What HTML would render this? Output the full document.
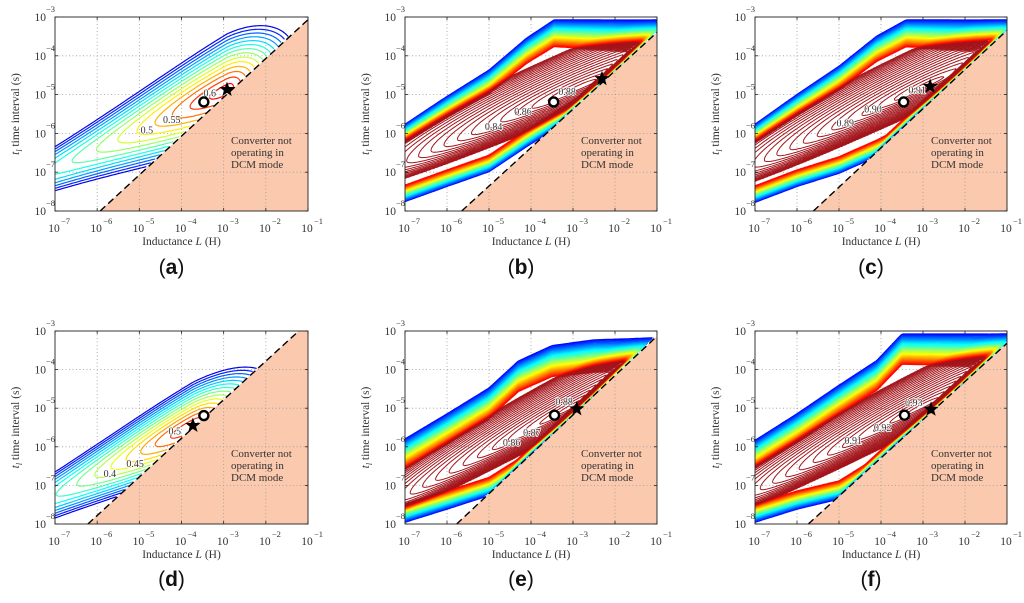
<!DOCTYPE html>
<html><head><meta charset="utf-8"><style>
html,body{margin:0;padding:0;background:#fff;}
svg{display:block;font-family:"Liberation Serif",serif;}
</style></head><body>
<svg id="fig" width="1024" height="603" viewBox="0 0 1024 603" xmlns="http://www.w3.org/2000/svg">
<rect x="0" y="0" width="1024" height="603" fill="#fff"/>
</svg>
<script>
// ---------- layout ----------
const panelNames=['a','b','c','d','e','f'];
const plotX0=[55,405,755,55,405,755], plotX1=[308,657,1007,308,657,1007];
const plotY0=[17,17,17,331,331,331], plotY1=[211,211,211,524,524,524];
// ---------- data (log10 units) ----------
const xTicks=[-7,-6,-5,-4,-3,-2,-1];
const yTicks=[-3,-4,-5,-6,-7,-8];
const lineU0=[-5.93,-5.65,-5.61,-6.22,-5.77,-5.73];
const lineSlope=[1.0,0.99,1.01,1.0,1.02,0.99];
const starU=[-2.92,-2.31,-2.83,-3.73,-2.91,-2.81];
const starV=[-4.87,-4.59,-4.79,-5.45,-5.02,-5.03];
const circU=[-3.47,-3.46,-3.46,-3.47,-3.44,-3.44];
const circV=[-5.19,-5.19,-5.19,-5.19,-5.18,-5.18];
const labText=[['0.5','0.55','0.6'],['0.84','0.86','0.88'],['0.89','0.90','0.91'],['0.4','0.45','0.5'],['0.86','0.87','0.88'],['0.91','0.92','0.93']];
const labU=[[-4.82,-4.23,-3.33],[-4.89,-4.19,-3.14],[-4.85,-4.19,-3.14],[-5.70,-5.10,-4.16],[-4.46,-3.98,-3.21],[-4.66,-3.96,-3.22]];
const labV=[[-5.92,-5.66,-4.97],[-5.84,-5.45,-4.93],[-5.75,-5.39,-4.89],[-6.71,-6.45,-5.60],[-5.90,-5.64,-4.84],[-5.85,-5.51,-4.86]];
const levelsA=[0.275,0.3,0.325,0.35,0.375,0.4,0.425,0.45,0.475,0.5,0.525,0.55,0.575,0.6];
const levelsD=[0.175,0.2,0.225,0.25,0.275,0.3,0.325,0.35,0.375,0.4,0.425,0.45,0.475,0.5,0.525];
const adPeakU=[-2.92,-3.73], adPeakD=[0.12,0.06], adSlope=[0.5,0.45];
const adWidth=[1.45,1.15], adWidthSlope=[0.164,0.104];
const adSpanL=[4.45,3.9], adSpanR=[1.64,1.9], adMax=[0.616,0.527], adGain=[0.346,0.364];
const upU=[[-7,-6,-5,-4.1,-3.45,-1],[-7,-6,-5,-4.1,-3.4,-1],[-7,-6,-5,-4.3,-3.5,-2.5,-1],[-7,-6,-5,-4.1,-3.5,-1]];
const upV=[[-5.75,-5.03,-4.35,-3.52,-3.05,-3.05],[-5.75,-4.98,-4.25,-3.47,-3.05,-3.05],[-5.77,-5.12,-4.45,-3.75,-3.35,-3.2,-3.15],[-5.81,-5.12,-4.38,-3.74,-3.05,-3.05]];
const loU=[[-7,-6,-5,-4.1,-3],[-7,-6,-5,-4.1,-3],[-7,-6,-5,-4.3,-3.5],[-7,-6,-5,-4.1,-3.5]];
const loV=[[-7.77,-7.38,-7.0,-6.35,-5.6],[-7.79,-7.38,-7.04,-6.61,-6.0],[-7.97,-7.63,-7.28,-6.8,-6.3],[-7.97,-7.63,-7.37,-6.76,-6.2]];
const bandUp0=[0.5,0.5,0.8,0.75], bandUp1=[0.9,0.9,0.9,0.9], bandLo=[0.45,0.45,0.5,0.5];
const ridgeU=[-2.8,-2.9,-3.0,-3.0], ridgeV=[-4.8,-4.75,-4.95,-4.95], ridgeM=[0.46,0.5,0.58,0.55];
const ridgeSpan=[6,6,6,6], ridgeWUp=[1.1,1.1,1.0,1.0], ridgeWLo=[0.6,0.6,0.55,0.55];
const bandN=26, innerM=22;

const NS='http://www.w3.org/2000/svg';
const svg=document.getElementById('fig');
function el(tag,attrs,parent){const e=document.createElementNS(NS,tag);for(const k in attrs)e.setAttribute(k,attrs[k]);(parent||svg).appendChild(e);return e;}
function clamp(x){return Math.max(0,Math.min(1,x));}
function jet(t){const r=clamp(1.5-Math.abs(4*t-3)),g=clamp(1.5-Math.abs(4*t-2)),b=clamp(1.5-Math.abs(4*t-1));return 'rgb('+Math.round(r*255)+','+Math.round(g*255)+','+Math.round(b*255)+')';}
function interp(us,vs,u){let i=0;if(u<=us[0])i=0;else if(u>=us[us.length-1])i=us.length-2;else{while(u>us[i+1])i++;}const t=(u-us[i])/(us[i+1]-us[i]);return vs[i]+t*(vs[i+1]-vs[i]);}

function contourPath(grid,nu,nv,level,X,Y){
  let s=[];
  for(let j=0;j<nv-1;j++)for(let i=0;i<nu-1;i++){
    const a=grid[j*nu+i],b=grid[j*nu+i+1],c=grid[(j+1)*nu+i+1],d=grid[(j+1)*nu+i];
    if(isNaN(a)||isNaN(b)||isNaN(c)||isNaN(d))continue;
    const pts=[];
    function cr(v1,v2,x1,y1,x2,y2){if((v1<level)!==(v2<level)){const t=(level-v1)/(v2-v1);pts.push([x1+t*(x2-x1),y1+t*(y2-y1)]);}}
    cr(a,b,i,j,i+1,j);cr(b,c,i+1,j,i+1,j+1);cr(c,d,i+1,j+1,i,j+1);cr(d,a,i,j+1,i,j);
    for(let k=0;k+1<pts.length;k+=2){
      s.push('M'+X(pts[k][0]).toFixed(1)+' '+Y(pts[k][1]).toFixed(1)+'L'+X(pts[k+1][0]).toFixed(1)+' '+Y(pts[k+1][1]).toFixed(1));
    }
  }
  return s.join('');
}

for(let p=0;p<6;p++){
  const x0=plotX0[p],x1=plotX1[p],y0=plotY0[p],y1=plotY1[p];
  const px=u=>x0+(u+7)/6*(x1-x0);
  const py=v=>y0+(-3-v)/5*(y1-y0);
  const lineV=u=>-8+lineSlope[p]*(u-lineU0[p]);
  const g=el('g',{});
  
  
  const cid='clip'+p;
  const cp=el('clipPath',{id:cid},g);el('rect',{x:x0,y:y0,width:x1-x0,height:y1-y0},cp);
  const reg=el('polygon',{points:px(lineU0[p])+','+py(-8)+' '+px(-1)+','+py(lineV(-1))+' '+px(-1)+','+py(-8),fill:'#fbc9ae','clip-path':'url(#'+cid+')'},g);
  
  
  const grid=el('g',{stroke:'#9a9a9a','stroke-width':0.8,'stroke-dasharray':'1 2.5'},g);
  
  
  for(const u of xTicks.slice(1,-1))el('line',{x1:px(u),x2:px(u),y1:y0,y2:y1},grid);
  for(const v of yTicks.slice(1,-1))el('line',{x1:x0,x2:x1,y1:py(v),y2:py(v)},grid);
  const nu=170,nv=140;const G=new Float64Array(nu*nv);
  const isAD=(p===0||p===3);const ai=p===0?0:1;const bi=[0,0,1,0,2,3][p];
  for(let j=0;j<nv;j++)for(let i=0;i<nu;i++){
    const u=-7+6*i/(nu-1),v=-8+5*j/(nv-1);let f;
    const lv=lineV(u);
    if(v<lv){f=NaN;}
    else if(isAD){
      const d=v-lv,du=u-adPeakU[ai];const su=du<0?adSpanL[ai]:adSpanR[ai];
      const dc=adPeakD[ai]+adSlope[ai]*(adPeakU[ai]-u);
      const w=du<0?adWidth[ai]+adWidthSlope[ai]*du:adWidth[ai];
      const q=Math.pow(du/su,2);
      const A=du<0?q/(1+q/0.97):q;
      const R=Math.pow((d-dc)/w,2)+A;
      f=adMax[ai]-adGain[ai]*Math.pow(R,0.65);
    } else {
      const bu=bandUp0[bi]+(bandUp1[bi]-bandUp0[bi])*(u+7)/6;
      const dU=(interp(upU[bi],upV[bi],u)-v)/bu;
      const dL=(v-interp(loU[bi],loV[bi],u))/bandLo[bi];
      const dN=(v-lv)/0.2;
      let D=Math.min(dU,dL,dN,1);
      const du=u-ridgeU[bi],dv=v-(ridgeV[bi]+ridgeM[bi]*du);
      const w=dv>0?ridgeWUp[bi]:ridgeWLo[bi];
      const T=Math.max(0,1-Math.sqrt(Math.pow(du/ridgeSpan[bi],2)+Math.pow(dv/w,2)));
      f=D>0?D*(1+T):D;
    }
    G[j*nu+i]=f;
  }
  const X=i=>px(-7+6*i/(nu-1)),Y=j=>py(-8+5*j/(nv-1));
  const cg=el('g',{'clip-path':'url(#'+cid+')',fill:'none'},g);
  
  
  if(isAD){
    const lev=p===0?levelsA:levelsD;
    lev.forEach((L,k)=>{
      const path=el('path',{d:contourPath(G,nu,nv,L,X,Y),stroke:jet(0.1+0.78*k/(lev.length-1)),'stroke-width':1.2},cg);
      
      
    });
  } else {
    for(let k=1;k<bandN;k++){
      const path=el('path',{d:contourPath(G,nu,nv,k/bandN,X,Y),stroke:jet(0.1+0.8*k/bandN),'stroke-width':1.6},cg);
      
      
    }
    for(let k=1;k<innerM;k++){
      const path=el('path',{d:contourPath(G,nu,nv,1+Math.pow(k/innerM,1.5),X,Y),stroke:'#a3141a','stroke-width':1.0},cg);
      
      
    }
  }
  const dl=el('line',{x1:px(lineU0[p]),y1:py(-8),x2:px(-1),y2:py(lineV(-1)),stroke:'#000','stroke-width':1.4,'stroke-dasharray':'7 4','clip-path':'url(#'+cid+')'},g);
  
  
  labText[p].forEach((t,k)=>{
    const tx=el('text',{x:px(labU[p][k]),y:py(labV[p][k])+3,'font-size':10,'text-anchor':'middle',fill:'#333',stroke:'#fff','stroke-width':1.5,'paint-order':'stroke'},g);
    tx.textContent=t;
    
    
  });
  const cx=px(circU[p]),cy=py(circV[p]);
  const cm=el('circle',{cx:cx,cy:cy,r:4.5,fill:'#fff',stroke:'#000','stroke-width':2.4},g);
  
  
  const sx=px(starU[p]),sy=py(starV[p]);let sp=[];
  for(let k=0;k<10;k++){const r=k%2?3.3:8,a=-Math.PI/2+k*Math.PI/5;sp.push((sx+r*Math.cos(a)).toFixed(1)+','+(sy+r*Math.sin(a)).toFixed(1));}
  const sm=el('polygon',{points:sp.join(' '),fill:'#000'},g);
  
  
  const lines=['Converter not','operating in','DCM mode'];
  const tb=p<3?144:457;
  lines.forEach((t,k)=>{
    const tx=el('text',{x:x0+176,y:tb+k*12,'font-size':11,fill:'#333'},g);
    tx.textContent=t;
    
    
  });
  const bx=el('rect',{x:x0,y:y0,width:x1-x0,height:y1-y0,fill:'none',stroke:'#222','stroke-width':0.9},g);
  
  
  const tk=el('g',{stroke:'#222','stroke-width':0.8},g);
  for(const u of xTicks){el('line',{x1:px(u),x2:px(u),y1:y1,y2:y1-3},tk);el('line',{x1:px(u),x2:px(u),y1:y0,y2:y0+3},tk);}
  for(const v of yTicks){el('line',{x1:x0,x2:x0+3,y1:py(v),y2:py(v)},tk);el('line',{x1:x1,x2:x1-3,y1:py(v),y2:py(v)},tk);}
  const xb=y1+21;
  for(const u of xTicks){
    const t=el('text',{x:px(u)-1,y:xb,'font-size':11.5,'text-anchor':'middle',fill:'#333'},g);t.textContent='10';
    
    
    const e=el('text',{x:px(u)+6,y:xb-8,'font-size':8.5,fill:'#333'},g);e.textContent='\u2212'+(-u);
    
    
  }
  for(const v of yTicks){
    const t=el('text',{x:x0-9,y:py(v)+4,'font-size':11.5,'text-anchor':'end',fill:'#333'},g);t.textContent='10';
    
    
    const e=el('text',{x:x0-9,y:py(v)-5,'font-size':8.5,fill:'#333'},g);e.textContent='\u2212'+(-v);
    
    
  }
  const xt=el('text',{x:(x0+x1)/2,y:y1+34,'font-size':11.5,'text-anchor':'middle',fill:'#333'},g);
  xt.innerHTML='Inductance <tspan font-style="italic">L</tspan> (H)';
  
  
  const yc=(y0+y1)/2;
  const yt=el('text',{x:0,y:0,'font-size':11.5,'text-anchor':'middle',fill:'#333',transform:'translate('+(x0-36)+','+yc+') rotate(-90)'},g);
  yt.innerHTML='<tspan font-style="italic">t</tspan><tspan font-style="italic" font-size="8" dy="3">l</tspan><tspan dy="-3"> time interval (s)</tspan>';
  
  
  const pl=el('text',{x:(x0+x1)/2-10,y:p<3?274:586,'font-size':21,'text-anchor':'middle',fill:'#111','font-family':'Liberation Sans, sans-serif'},g);
  pl.innerHTML='(<tspan font-weight="bold">'+panelNames[p]+'</tspan>)';
  
  
}
</script>
</body></html>
